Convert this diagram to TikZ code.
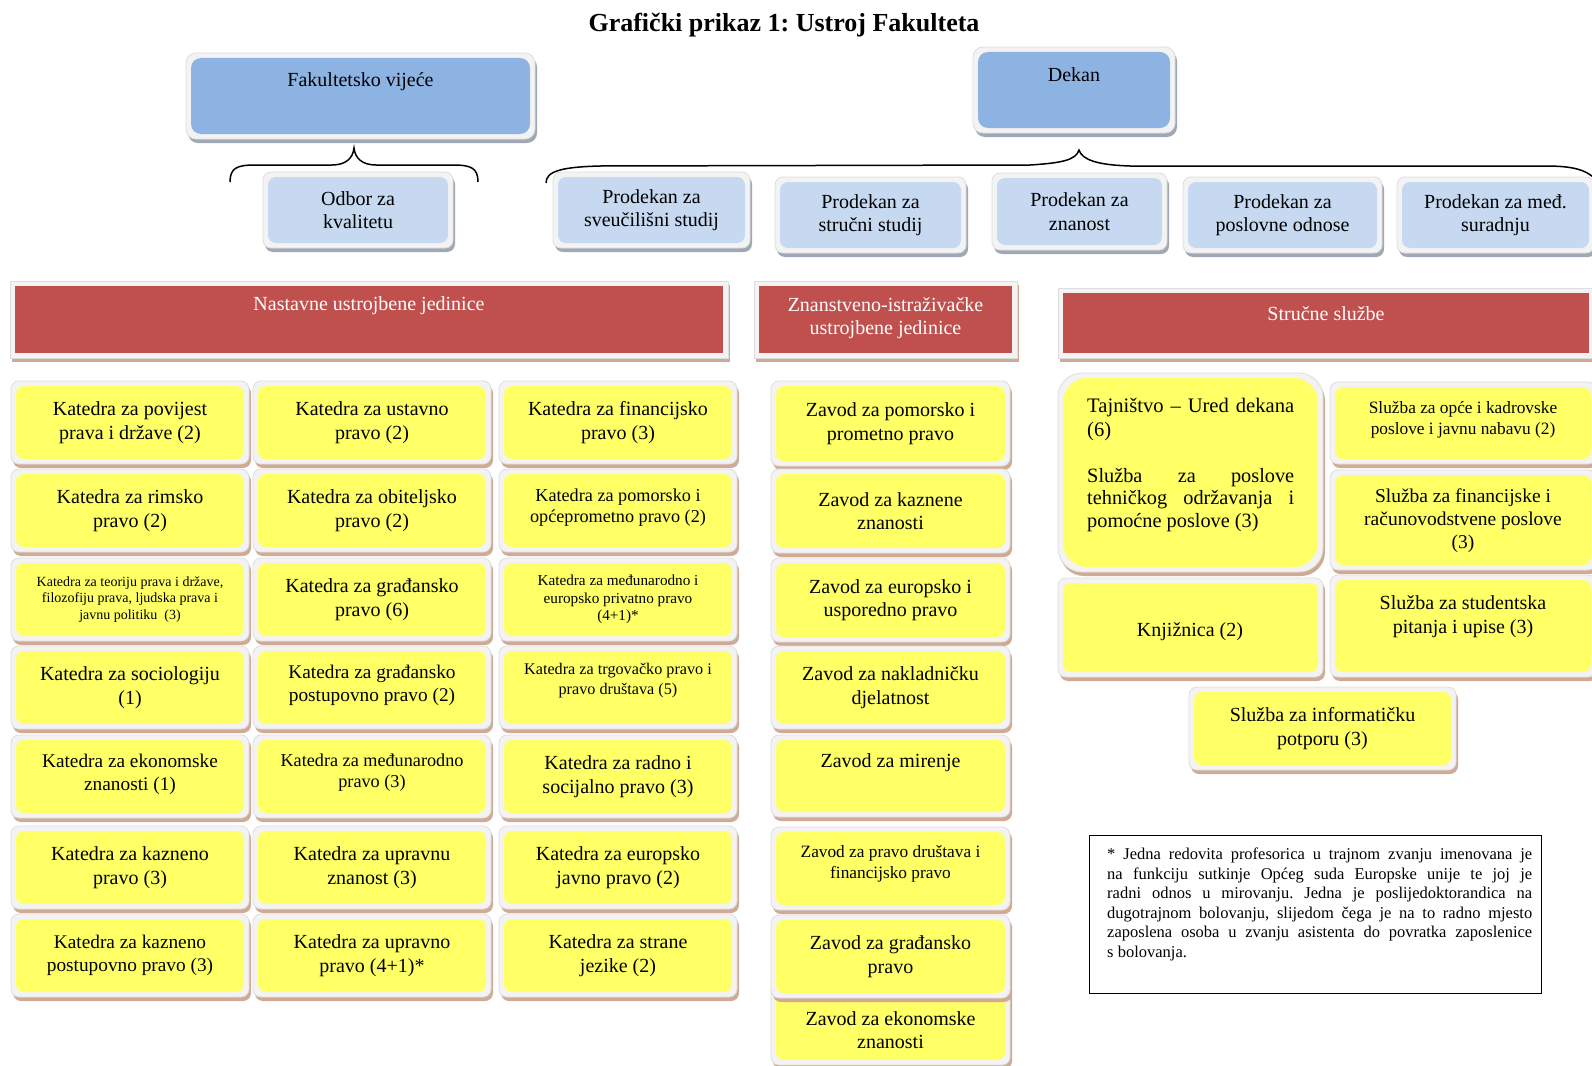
\documentclass[tikz,border=0pt]{standalone}
\usepackage{fontspec}
\setmainfont{Liberation Serif}
\definecolor{yelfill}{RGB}{255,255,102}
\definecolor{dblue}{RGB}{141,179,226}
\definecolor{lblue}{RGB}{198,217,241}
\definecolor{hred}{RGB}{192,80,77}
\definecolor{tanshadow}{RGB}{208,170,148}
\definecolor{grayshadow}{RGB}{160,168,182}
\definecolor{framefill}{RGB}{243,243,243}
\definecolor{framedraw}{RGB}{222,222,222}
\tikzset{
  framest/.style={fill=framefill, draw=framedraw, line width=0.8pt},
  yelshadow/.style={fill=tanshadow},
  yelbox/.style={fill=yelfill},
  redshadow/.style={fill=tanshadow},
  redbox/.style={fill=hred},
  blushadow/.style={fill=grayshadow},
  blubox/.style={fill=dblue},
  lblshadow/.style={fill=grayshadow},
  lblbox/.style={fill=lblue},
  tx/.style={inner sep=0pt, outer sep=0pt, align=center, text=black},
  f20/.style={tx, font=\fontsize{20}{23.5}\selectfont},
  f19/.style={tx, font=\fontsize{19.3}{23}\selectfont},
  f18/.style={tx, font=\fontsize{18.2}{21.5}\selectfont},
  f17/.style={tx, font=\fontsize{17.3}{21.5}\selectfont},
  f16/.style={tx, font=\fontsize{16.2}{19.5}\selectfont},
  f15/.style={tx, font=\fontsize{15.2}{17.5}\selectfont},
  f14/.style={tx, font=\fontsize{14}{16.8}\selectfont},
  wt/.style={f20, text=white},
  bracest/.style={draw=black, line width=1.5pt},
}
% name, x1, y1, x2, y2, kind, corner option
\newcommand{\frm}[7]{%
  \fill[#6shadow, #7] ({#2-3},{#3-1}) rectangle ({#4+7},{#5+9});
  \filldraw[framest, #7] ({#2-5},{#3-5}) rectangle ({#4+5},{#5+5});
  \node[#6box, #7, draw=none, inner sep=0pt, outer sep=0pt, minimum width={#4-#2}, minimum height={#5-#3}] (#1) at ({(#2+#4)/2},{(#3+#5)/2}) {};
}
\frenchspacing
\begin{document}
\frenchspacing
\begin{tikzpicture}[x=1pt,y=-1pt]
\useasboundingbox (0,0) rectangle (1592,1065);
\fill[white] (0,0) rectangle (1592,1065);
\clip (0,0) rectangle (1592,1065);

% title
\node[inner sep=0pt, anchor=base, font=\fontsize{26}{30}\selectfont\bfseries] (title) at (784,32) {Grafički prikaz 1: Ustroj Fakulteta};

% top boxes
\frm{fv}{191}{58}{530}{134}{blu}{rounded corners=10pt}
\node[f20] (fvt) at (360.5,82) {Fakultetsko vijeće};
\frm{dek}{978}{52}{1170}{128}{blu}{rounded corners=10pt}
\node[f20] (dekt) at (1074,75) {Dekan};

% braces
\draw[bracest] (230,182) .. controls (230,168) and (237,165) .. (255,165) -- (332,165) .. controls (346,165) and (353,158) .. (354,148) .. controls (355,158) and (362,165) .. (376,165) -- (453,165) .. controls (471,165) and (478,168) .. (478,182);
\draw[bracest] (546,183) .. controls (546,171) and (562,167) .. (600,166) -- (1030,165) .. controls (1062,163) and (1076,160) .. (1079,150) .. controls (1082,160) and (1098,165) .. (1130,166) -- (1545,166) .. controls (1575,166) and (1590,170) .. (1600,185);

% second row
\frm{odb}{268}{177}{448}{243}{lbl}{rounded corners=8pt}
\node[f20] (odbt) at (odb) {Odbor za\\kvalitetu};
\frm{p1}{558}{177}{745}{243}{lbl}{rounded corners=8pt}
\node[f20] (p1t) at (p1) {Prodekan za\\sveučilišni studij};
\frm{p2}{780}{182}{961}{248}{lbl}{rounded corners=8pt}
\node[f20] (p2t) at (p2) {Prodekan za\\stručni studij};
\frm{p3}{997}{178}{1162}{245}{lbl}{rounded corners=8pt}
\node[f20] (p3t) at (p3) {Prodekan za\\znanost};
\frm{p4}{1188}{182}{1377}{248}{lbl}{rounded corners=8pt}
\node[f20] (p4t) at (p4) {Prodekan za\\poslovne odnose};
\frm{p5}{1402}{182}{1589}{248}{lbl}{rounded corners=8pt}
\node[f20] (p5t) at (p5) {Prodekan za međ.\\suradnju};

% red headers
\frm{h1}{15}{286}{723}{353}{red}{sharp corners}
\node[wt] (h1t) at (369,306) {Nastavne ustrojbene jedinice};
\frm{h2}{759}{286}{1012}{353}{red}{sharp corners}
\node[wt] (h2t) at (885.5,318) {Znanstveno-istraživačke\\ustrojbene jedinice};
\frm{h3}{1063}{293}{1589}{353}{red}{sharp corners}
\node[wt] (h3t) at (1326,314) {Stručne službe};

% left grid
\frm{k11}{16}{386}{244}{459}{yel}{rounded corners=8pt}
\node[f20] (k11t) at (k11) {Katedra za povijest\\prava i države (2)};
\frm{k12}{258}{386}{486}{459}{yel}{rounded corners=8pt}
\node[f20] (k12t) at (k12) {Katedra za ustavno\\pravo (2)};
\frm{k13}{504}{386}{732}{459}{yel}{rounded corners=8pt}
\node[f20] (k13t) at (k13) {Katedra za financijsko\\pravo (3)};

\frm{k21}{16}{474}{244}{547}{yel}{rounded corners=8pt}
\node[f20] (k21t) at (k21) {Katedra za rimsko\\pravo (2)};
\frm{k22}{258}{474}{486}{547}{yel}{rounded corners=8pt}
\node[f20] (k22t) at (k22) {Katedra za obiteljsko\\pravo (2)};
\frm{k23}{504}{474}{732}{547}{yel}{rounded corners=8pt}
\node[f18] (k23t) at ([yshift=3pt]k23.center) {Katedra za pomorsko i\\općeprometno pravo (2)};

\frm{k31}{16}{563}{244}{636}{yel}{rounded corners=8pt}
\node[f14] (k31t) at (k31) {Katedra za teoriju prava i države,\\filozofiju prava, ljudska prava i\\javnu politiku\ \ (3)};
\frm{k32}{258}{563}{486}{636}{yel}{rounded corners=8pt}
\node[f20] (k32t) at (k32) {Katedra za građansko\\pravo (6)};
\frm{k33}{504}{563}{732}{636}{yel}{rounded corners=8pt}
\node[f15] (k33t) at (k33) {Katedra za međunarodno i\\europsko privatno pravo\\(4+1)*};

\frm{k41}{16}{651}{244}{724}{yel}{rounded corners=8pt}
\node[f20] (k41t) at (k41) {Katedra za sociologiju\\(1)};
\frm{k42}{258}{651}{486}{724}{yel}{rounded corners=8pt}
\node[f19] (k42t) at ([yshift=2pt]k42.center) {Katedra za građansko\\postupovno pravo (2)};
\frm{k43}{504}{651}{732}{724}{yel}{rounded corners=8pt}
\node[f16] (k43t) at ([yshift=7pt]k43.center) {Katedra za trgovačko pravo i\\pravo društava (5)};

\frm{k51}{16}{740}{244}{813}{yel}{rounded corners=8pt}
\node[f19] (k51t) at ([yshift=2pt]k51.center) {Katedra za ekonomske\\znanosti (1)};
\frm{k52}{258}{740}{486}{813}{yel}{rounded corners=8pt}
\node[f18] (k52t) at ([yshift=4pt]k52.center) {Katedra za međunarodno\\pravo (3)};
\frm{k53}{504}{740}{732}{813}{yel}{rounded corners=8pt}
\node[f20] (k53t) at (k53) {Katedra za radno i\\socijalno pravo (3)};

\frm{k61}{16}{831}{244}{904}{yel}{rounded corners=8pt}
\node[f20] (k61t) at (k61) {Katedra za kazneno\\pravo (3)};
\frm{k62}{258}{831}{486}{904}{yel}{rounded corners=8pt}
\node[f20] (k62t) at (k62) {Katedra za upravnu\\znanost (3)};
\frm{k63}{504}{831}{732}{904}{yel}{rounded corners=8pt}
\node[f20] (k63t) at (k63) {Katedra za europsko\\javno pravo (2)};

\frm{k71}{16}{919}{244}{992}{yel}{rounded corners=8pt}
\node[f19] (k71t) at (k71) {Katedra za kazneno\\postupovno pravo (3)};
\frm{k72}{258}{919}{486}{992}{yel}{rounded corners=8pt}
\node[f20] (k72t) at (k72) {Katedra za upravno\\pravo (4+1)*};
\frm{k73}{504}{919}{732}{992}{yel}{rounded corners=8pt}
\node[f20] (k73t) at (k73) {Katedra za strane\\jezike (2)};

% zavodi
\frm{z1}{776}{386}{1005}{461}{yel}{rounded corners=8pt}
\node[f20] (z1t) at (z1) {Zavod za pomorsko i\\prometno pravo};
\frm{z2}{776}{474}{1005}{548}{yel}{rounded corners=8pt}
\node[f20] (z2t) at (z2) {Zavod za kaznene\\znanosti};
\frm{z3}{776}{563}{1005}{637}{yel}{rounded corners=8pt}
\node[f20] (z3t) at (z3) {Zavod za europsko i\\usporedno pravo};
\frm{z4}{776}{651}{1005}{724}{yel}{rounded corners=8pt}
\node[f20] (z4t) at (z4) {Zavod za nakladničku\\djelatnost};
\frm{z5}{776}{740}{1005}{812}{yel}{rounded corners=8pt}
\node[f20] (z5t) at (890.5,763) {Zavod za mirenje};
\frm{z6}{776}{832}{1005}{905}{yel}{rounded corners=8pt}
\node[f17] (z6t) at (890.5,864) {Zavod za pravo društava i\\financijsko pravo};
\frm{z8}{776}{985}{1005}{1060}{yel}{rounded corners=8pt}
\node[f20] (z8t) at (890.5,1030) {Zavod za ekonomske\\znanosti};
\frm{z7}{776}{920}{1005}{993}{yel}{rounded corners=8pt}
\node[f20] (z7t) at (z7) {Zavod za građansko\\pravo};

% strucne sluzbe
\frm{taj}{1063}{378}{1318}{567}{yel}{rounded corners=24pt}
\node[anchor=north west, inner sep=0pt, align=left, font=\fontsize{20.6}{24}\selectfont] (taj1) at (1087,398) {\makebox[207pt][s]{Tajništvo – Ured dekana}\\(6)};
\node[anchor=north west, inner sep=0pt, align=left, font=\fontsize{20.3}{22.5}\selectfont] (taj2) at (1087,468) {\makebox[207pt][s]{Služba za poslove}\\\makebox[207pt][s]{tehničkog održavanja i}\\pomoćne poslove (3)};
\frm{s1}{1335}{387}{1591}{459}{yel}{rounded corners=8pt}
\node[f17] (s1t) at (1463,420) {Služba za opće i kadrovske\\poslove i javnu nabavu (2)};
\frm{s2}{1335}{475}{1591}{565}{yel}{rounded corners=8pt}
\node[tx, font=\fontsize{19.5}{22.8}\selectfont] (s2t) at (1463,521) {Služba za financijske i\\računovodstvene poslove\\(3)};
\frm{kn}{1063}{583}{1318}{672}{yel}{rounded corners=8pt}
\node[f20] (knt) at (1190,632) {Knjižnica (2)};
\frm{s3}{1335}{580}{1591}{672}{yel}{rounded corners=8pt}
\node[f20] (s3t) at (1463,616.5) {Služba za studentska\\pitanja i upise (3)};
\frm{s4}{1194}{692}{1451}{765}{yel}{rounded corners=8pt}
\node[f20] (s4t) at (s4) {Služba za informatičku\\potporu (3)};

% footnote
\node[draw=black, line width=1.3pt, inner sep=0pt, minimum width=452pt, minimum height=158pt, anchor=north west] (fn) at (1089,835) {};
\node[anchor=north west, inner sep=0pt, align=left, font=\fontsize{16.5}{19.5}\selectfont] (fnt) at (1107,848) {%
\makebox[425pt][s]{* Jedna redovita profesorica u trajnom zvanju imenovana je}\\
\makebox[425pt][s]{na funkciju sutkinje Općeg suda Europske unije te joj je}\\
\makebox[425pt][s]{radni odnos u mirovanju. Jedna je poslijedoktorandica na}\\
\makebox[425pt][s]{dugotrajnom bolovanju, slijedom čega je na to radno mjesto}\\
\makebox[425pt][s]{zaposlena osoba u zvanju asistenta do povratka zaposlenice}\\
s bolovanja.};
\end{tikzpicture}
\end{document}
